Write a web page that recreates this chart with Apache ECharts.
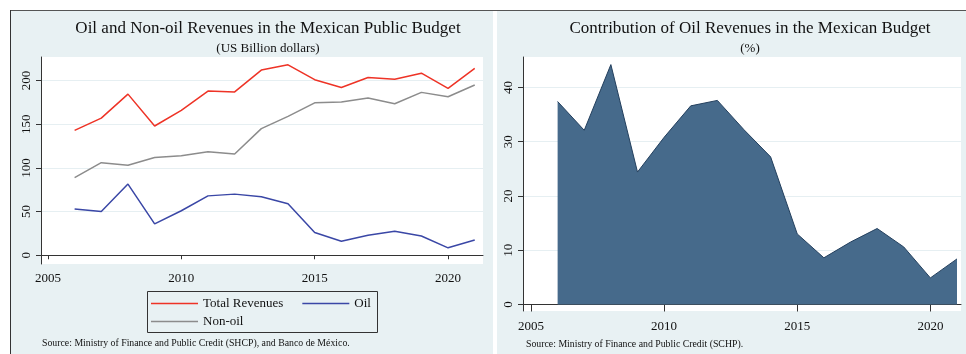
<!DOCTYPE html>
<html>
<head>
<meta charset="utf-8">
<script src="https://cdn.jsdelivr.net/npm/echarts@6/dist/echarts.min.js"></script>
<style>
  html, body { margin: 0; padding: 0; background: #fff; }
  #chart { width: 966px; height: 354px; }
</style>
</head>
<body>
<div id="chart"></div>
<script>
// data
var years = [2006, 2007, 2008, 2009, 2010, 2011, 2012, 2013, 2014, 2015, 2016, 2017, 2018, 2019, 2020, 2021];
var totalRevenues = [143, 157, 184.5, 148, 166, 188, 187, 212, 218, 201, 192, 203.5, 201.5, 208.5, 191, 214];
var oilRevenues = [53, 50, 81.5, 36, 51, 68, 70, 67, 59, 26, 16, 23, 27.5, 22, 8.5, 17.5];
var nonOilRevenues = [89, 106, 103, 112, 114, 118.5, 116, 145, 159, 174.5, 175.5, 180, 173.5, 186.5, 181.5, 195];
var oilShare = [37.4, 32.1, 44.2, 24.4, 30.8, 36.6, 37.6, 32.2, 27.2, 13.0, 8.6, 11.5, 14.0, 10.6, 4.9, 8.4];

var yearTicks = [2005, 2010, 2015, 2020];
var revenueTicks = [0, 50, 100, 150, 200];
var shareTicks = [0, 10, 20, 30, 40];

var serif = '"Liberation Serif", "DejaVu Serif", serif';
var ink = '#111';
var panelBg = '#e8f1f3';
var gridColor = '#e6eff2';

function pairs(values) {
  return years.map(function (y, i) { return [y, values[i]]; });
}

function xAxisFor(gridIndex, min, max, tickLen, margin) {
  return {
    type: 'value', gridIndex: gridIndex, min: min, max: max,
    axisLine: { show: true, lineStyle: { color: '#333', width: 1 } },
    axisTick: { show: true, length: tickLen, customValues: yearTicks, lineStyle: { color: '#333' } },
    axisLabel: {
      customValues: yearTicks, margin: margin, fontFamily: serif, fontSize: 13, color: ink,
      formatter: function (v) { return String(v); }
    },
    splitLine: { show: false }
  };
}

function yAxisFor(gridIndex, min, max, ticks) {
  return {
    type: 'value', gridIndex: gridIndex, min: min, max: max,
    axisLine: { show: true, lineStyle: { color: '#333', width: 1 } },
    axisTick: { show: true, length: 5, customValues: ticks, lineStyle: { color: '#333' } },
    axisLabel: { customValues: ticks, rotate: 90, margin: 8, fontFamily: serif, fontSize: 13, color: ink },
    splitLine: { show: true, lineStyle: { color: gridColor, width: 1 } }
  };
}

var chart = echarts.init(document.getElementById('chart'));

var option = {
  backgroundColor: '#fff',
  animation: false,
  title: [
    {
      text: 'Oil and Non-oil Revenues in the Mexican Public Budget',
      subtext: '(US Billion dollars)',
      left: 263, top: 15, textAlign: 'center', itemGap: 5,
      textStyle: { fontFamily: serif, fontSize: 17, fontWeight: 'normal', color: ink },
      subtextStyle: { fontFamily: serif, fontSize: 13, color: ink }
    },
    {
      text: 'Contribution of Oil Revenues in the Mexican Budget',
      subtext: '(%)',
      left: 745, top: 15, textAlign: 'center', itemGap: 5,
      textStyle: { fontFamily: serif, fontSize: 17, fontWeight: 'normal', color: ink },
      subtextStyle: { fontFamily: serif, fontSize: 13, color: ink }
    },
    {
      text: 'Source: Ministry of Finance and Public Credit (SHCP), and Banco de México.',
      left: 42, top: 338, padding: 0,
      textStyle: { fontFamily: serif, fontSize: 9.8, fontWeight: 'normal', color: ink }
    },
    {
      text: 'Source: Ministry of Finance and Public Credit (SCHP).',
      left: 526, top: 339, padding: 0,
      textStyle: { fontFamily: serif, fontSize: 9.8, fontWeight: 'normal', color: ink }
    }
  ],
  grid: [
    { left: 41, right: 483, top: 57, bottom: 90, show: true, backgroundColor: '#fff', borderWidth: 0 },
    { left: 523, right: 5, top: 57, bottom: 43, show: true, backgroundColor: '#fff', borderWidth: 0 }
  ],
  xAxis: [
    xAxisFor(0, 2004.74, 2021.31, 4, 8),
    xAxisFor(1, 2004.7, 2021.15, 7, 9)
  ],
  yAxis: [
    yAxisFor(0, -10, 227, revenueTicks),
    yAxisFor(1, -1.2, 45.6, shareTicks)
  ],
  legend: [
    {
      data: ['Total Revenues', 'Oil'],
      left: 151, top: 297, padding: 0, itemGap: 19,
      icon: 'rect', itemWidth: 47, itemHeight: 1.5,
      textStyle: { fontFamily: serif, fontSize: 13, color: ink }
    },
    {
      data: ['Non-oil'],
      left: 151, top: 315, padding: 0,
      icon: 'rect', itemWidth: 47, itemHeight: 1.5,
      textStyle: { fontFamily: serif, fontSize: 13, color: ink }
    }
  ],
  graphic: [
    { type: 'rect', z: -100, shape: { x: 10, y: 10, width: 483, height: 344 }, style: { fill: panelBg } },
    { type: 'rect', z: -100, shape: { x: 497, y: 10, width: 469, height: 344 }, style: { fill: panelBg } },
    { type: 'line', z: 10, shape: { x1: 10, y1: 10.5, x2: 966, y2: 10.5 }, style: { stroke: '#555', lineWidth: 1 } },
    { type: 'line', z: 10, shape: { x1: 10.5, y1: 10, x2: 10.5, y2: 354 }, style: { stroke: '#333', lineWidth: 1 } },
    { type: 'rect', z: 10, shape: { x: 147.5, y: 291.5, width: 230, height: 41 }, style: { fill: 'none', stroke: '#333', lineWidth: 1 } }
  ],
  series: [
    {
      name: 'Total Revenues', type: 'line', xAxisIndex: 0, yAxisIndex: 0,
      data: pairs(totalRevenues), symbol: 'none', color: '#ee3326',
      lineStyle: { width: 1.5 }
    },
    {
      name: 'Oil', type: 'line', xAxisIndex: 0, yAxisIndex: 0,
      data: pairs(oilRevenues), symbol: 'none', color: '#3a47a6',
      lineStyle: { width: 1.5 }
    },
    {
      name: 'Non-oil', type: 'line', xAxisIndex: 0, yAxisIndex: 0,
      data: pairs(nonOilRevenues), symbol: 'none', color: '#8c8c8c',
      lineStyle: { width: 1.5 }
    },
    {
      name: 'Oil share', type: 'line', xAxisIndex: 1, yAxisIndex: 1,
      data: pairs(oilShare), symbol: 'none', color: '#456a8b',
      lineStyle: { width: 1, color: '#24405e' },
      areaStyle: { color: '#466a8b', opacity: 1, origin: 0 }
    }
  ]
};

chart.setOption(option);
</script>
</body>
</html>
